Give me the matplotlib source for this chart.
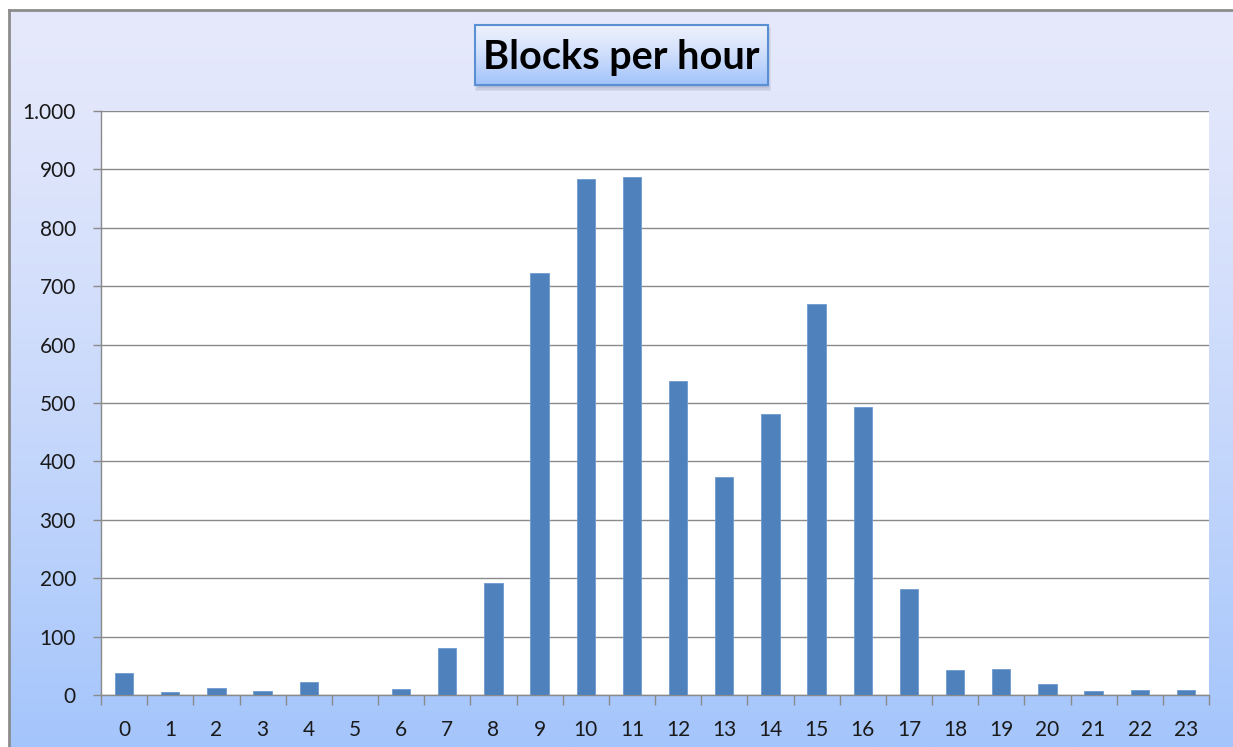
import numpy as np
import matplotlib
matplotlib.use('Agg')
import matplotlib.pyplot as plt
from matplotlib.patches import Rectangle

# hour of day and number of blocks
hours = list(range(24))
blocks = [38, 5, 12, 7, 22, 0, 11, 80, 192, 722, 884, 887,
          537, 373, 482, 669, 493, 181, 42, 44, 18, 7, 9, 9]
ytick_vals = list(range(0, 1001, 100))
ytick_labels = ['0', '100', '200', '300', '400', '500', '600', '700', '800', '900', '1.000']

W, H = 1233, 747
plt.rcParams['font.family'] = ['Lato', 'DejaVu Sans']

fig = plt.figure(figsize=(W / 100., H / 100.), dpi=100)
fig.patch.set_facecolor('white')

def px(x0, y0, x1, y1):
    # pixel box (top-left origin) -> figure fraction rect
    return [x0 / W, 1 - y1 / H, (x1 - x0) / W, (y1 - y0) / H]

# gradient background of the chart area
top_c = np.array([230, 233, 252]) / 255.
bot_c = np.array([164, 197, 251]) / 255.
t = np.linspace(0, 1, 256)[:, None] ** 1.3
grad = (top_c[None, :] * (1 - t) + bot_c[None, :] * t)[:, None, :]

bg = fig.add_axes(px(9, 10, W, H))
bg.imshow(grad, aspect='auto', extent=[0, 1, 0, 1], interpolation='bilinear')
bg.set_xlim(0, 1)
bg.set_ylim(0, 1)
bg.set_xticks([])
bg.set_yticks([])
for s in ['right', 'bottom']:
    bg.spines[s].set_visible(False)
for s in ['left', 'top']:
    bg.spines[s].set_color('#8c8c8c')
    bg.spines[s].set_linewidth(2)

# main plot
ax = fig.add_axes(px(101, 111, 1209, 695))
ax.set_facecolor('white')
ax.bar(hours, blocks, width=0.4, color='#4F81BD', edgecolor='#6f9bd0', linewidth=0.6, zorder=3)
ax.set_xlim(-0.5, 23.5)
ax.set_ylim(0, 1000)
ax.set_yticks(ytick_vals)
ax.set_yticklabels(ytick_labels)
ax.set_xticks(hours)
ax.set_xticklabels([str(h) for h in hours])
ax.set_xticks(np.arange(-0.5, 24, 1), minor=True)
ax.yaxis.grid(True, color='#8a8a8a', linewidth=1.0, zorder=0)
ax.set_axisbelow(True)
for s in ['top', 'right']:
    ax.spines[s].set_visible(False)
for s in ['left', 'bottom']:
    ax.spines[s].set_color('#8a8a8a')
    ax.spines[s].set_linewidth(1.0)
ax.tick_params(axis='x', which='major', length=0, pad=18, labelsize=15, labelcolor='#1a1a1a')
ax.tick_params(axis='x', which='minor', length=7, width=1, color='#8a8a8a', direction='out')
ax.tick_params(axis='y', which='major', length=6, width=1, color='#8a8a8a', pad=12,
               labelsize=15, labelcolor='#1a1a1a')

# title box with soft shadow
sh = fig.add_axes(px(475, 27, 771, 91))
sh.set_axis_off()
for k in range(4):
    sh.add_patch(Rectangle((0.004 * k, 0.02 * k), 1 - 0.008 * k, 1 - 0.04 * k,
                           transform=sh.transAxes, color='#5a6a88', alpha=0.10, lw=0))
tb = fig.add_axes(px(475, 25, 768, 85))
tgrad_top = np.array([236, 240, 253]) / 255.
tgrad_bot = np.array([160, 194, 250]) / 255.
tg = (tgrad_top[None, :] * (1 - t) + tgrad_bot[None, :] * t)[:, None, :]
tb.imshow(tg, aspect='auto', extent=[0, 1, 0, 1], interpolation='bilinear')
tb.set_xlim(0, 1)
tb.set_ylim(0, 1)
tb.set_xticks([])
tb.set_yticks([])
for s in tb.spines.values():
    s.set_color('#5a8fd4')
    s.set_linewidth(1.5)
tb.text(0.5, 0.46, 'Blocks per hour', transform=tb.transAxes, ha='center', va='center',
        fontsize=28.5, fontweight='bold', color='black')

fig.savefig('out.png', dpi=100)
